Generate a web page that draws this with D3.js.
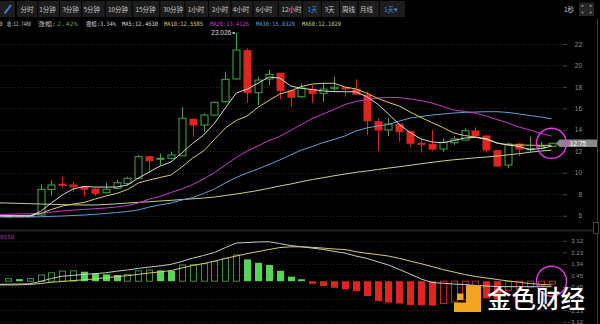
<!DOCTYPE html>
<html><head><meta charset="utf-8">
<script src="https://cdn.jsdelivr.net/npm/d3@7"></script>
<style>
html,body{margin:0;padding:0;background:#000;}
svg{display:block;}
</style></head><body>
<svg id="chart" width="600" height="324"></svg>
<script>
// ---- daily candles (index 0..50) ----
const opens  = [5.97,5.99,5.98,6.06,8.45,8.93,8.86,8.70,8.49,8.14,8.55,9.02,9.48,11.50,11.30,11.35,11.59,14.98,14.45,15.38,16.62,18.74,21.38,17.46,18.74,19.27,17.65,17.09,17.78,17.40,17.83,17.93,17.78,17.25,14.76,13.99,14.52,13.83,12.75,12.65,12.21,12.80,13.05,13.89,13.43,12.06,10.72,12.68,12.20,12.28,12.47];
const highs  = [6.02,6.04,6.05,8.92,9.26,9.63,9.17,8.75,8.55,9.07,9.33,9.63,11.66,11.55,11.81,11.96,16.10,15.08,15.54,16.62,19.42,23.026,21.60,18.95,19.58,19.30,17.70,18.30,18.18,18.40,18.95,17.97,18.71,17.55,15.08,15.08,14.60,13.92,13.21,13.99,13.21,13.43,14.14,14.24,13.43,12.06,12.80,12.75,13.36,12.90,12.80];
const lows   = [5.93,5.95,5.94,6.00,7.86,8.55,8.23,7.86,7.86,8.09,8.46,8.83,9.39,10.00,10.72,11.25,11.55,13.36,13.83,15.29,16.53,18.70,16.53,16.31,18.18,16.85,16.16,16.98,16.53,16.60,17.65,17.10,17.25,13.52,12.06,13.43,12.90,12.43,11.87,12.06,11.96,12.59,13.05,13.30,11.87,10.51,10.42,11.56,11.87,12.19,12.38];
const closes = [5.99,5.98,6.02,8.46,8.86,8.90,8.70,8.46,8.09,8.46,9.07,9.48,11.50,11.12,11.35,11.66,15.08,14.45,15.38,16.57,18.71,21.44,17.46,18.64,19.18,17.65,17.03,17.90,17.40,17.80,17.97,17.80,17.32,14.85,13.99,14.54,13.83,12.75,12.65,12.21,12.84,13.15,13.92,13.43,12.12,10.63,12.68,12.21,12.23,12.447,12.748];

// ---- moving averages (index -1..50) ----
const ma5  = [5.97,5.97,5.97,5.97,6.40,7.18,7.93,8.49,8.72,8.67,8.67,8.67,8.86,9.51,10.07,10.63,11.00,11.84,12.75,13.52,14.61,16.04,17.43,17.78,18.34,18.92,18.83,18.09,17.87,17.76,17.62,17.57,17.55,17.55,17.09,16.41,15.48,14.50,13.75,13.15,12.87,12.80,13.00,13.24,13.30,13.19,12.77,12.59,12.45,12.17,12.26,12.463];
const ma10 = [6.00,6.00,6.00,6.00,6.20,6.58,6.90,7.09,7.23,7.55,7.83,8.07,8.44,9.05,9.33,9.56,9.79,10.54,11.38,12.03,13.10,14.17,14.87,15.29,16.10,16.73,17.34,17.62,18.04,18.27,18.34,18.34,17.99,17.81,17.43,16.94,16.55,16.22,15.66,15.15,14.68,14.22,13.71,13.47,13.33,13.10,12.77,12.59,12.59,12.57,12.56,12.5585];
const ma20 = [6.11,6.13,6.16,6.18,6.22,6.34,6.44,6.53,6.58,6.65,6.72,6.81,6.95,7.18,7.55,7.79,8.16,8.49,8.91,9.42,10.02,10.72,11.42,12.03,12.49,13.01,13.38,13.94,14.50,15.06,15.48,15.90,16.36,16.64,16.83,16.97,17.03,17.00,16.87,16.73,16.50,16.18,15.85,15.71,15.57,15.29,14.96,14.64,14.26,13.99,13.68,13.4126];
const ma30 = [5.88,5.88,5.88,5.88,5.90,5.94,5.97,6.02,6.06,6.13,6.20,6.30,6.39,6.53,6.81,7.00,7.18,7.46,7.69,8.07,8.49,9.05,9.56,9.98,10.35,10.77,11.19,11.66,12.12,12.45,12.82,13.10,13.43,13.89,14.17,14.36,14.50,14.82,15.10,15.24,15.38,15.48,15.57,15.62,15.66,15.69,15.69,15.62,15.48,15.34,15.20,15.032];
const ma60 = [7.20,7.18,7.15,7.12,7.09,7.06,7.03,7.01,7.00,7.00,7.04,7.11,7.18,7.25,7.30,7.37,7.43,7.51,7.57,7.65,7.74,7.88,8.02,8.18,8.35,8.55,8.77,8.95,9.17,9.37,9.54,9.72,9.88,10.04,10.16,10.30,10.44,10.56,10.70,10.84,10.97,11.10,11.21,11.30,11.39,11.47,11.56,11.67,11.78,11.91,12.03,12.1029];

// ---- MACD (lines index -1..50, histogram index 0..50) ----
const dif = [-0.24,-0.23,-0.22,-0.20,-0.02,0.21,0.38,0.45,0.52,0.58,0.65,0.77,0.86,0.99,1.09,1.18,1.30,1.52,1.78,1.98,2.21,2.59,2.94,2.98,3.02,3.04,2.90,2.75,2.65,2.55,2.44,2.30,2.17,1.94,1.76,1.50,1.25,0.90,0.55,0.17,-0.10,-0.16,-0.22,-0.26,-0.32,-0.37,-0.41,-0.42,-0.42,-0.42,-0.42,-0.42];
const dea = [-0.29,-0.29,-0.28,-0.25,-0.18,-0.08,-0.02,0.05,0.11,0.18,0.27,0.35,0.42,0.53,0.63,0.72,0.82,1.02,1.21,1.36,1.55,1.75,1.94,2.12,2.28,2.44,2.59,2.65,2.65,2.61,2.55,2.48,2.44,2.28,2.15,2.05,1.94,1.76,1.55,1.35,1.13,0.90,0.71,0.52,0.36,0.25,0.13,0.02,-0.08,-0.18,-0.24,-0.29];
const macdHist = [0.20,0.16,0.20,0.48,0.65,0.78,0.80,0.73,0.61,0.53,0.48,0.53,0.80,0.86,0.83,0.80,1.25,1.27,1.35,1.50,1.76,2.02,1.68,1.42,1.25,0.80,0.35,0.15,-0.20,-0.37,-0.50,-0.62,-0.75,-1.14,-1.52,-1.65,-1.72,-1.83,-1.85,-1.88,-1.72,-1.60,-1.45,-1.25,-1.32,-1.40,-0.70,-0.60,-0.45,-0.32,-0.22];

// ---- axis ticks and header texts ----
const priceTicks = [6,8,10,12,14,16,18,20,22];
const macdTicks = [-3.12,-2.23,-1.34,-0.45,0.45,1.34,2.23,3.12];
const periods = ["分时","1分钟","3分钟","5分钟","10分钟","15分钟","30分钟","1小时","2小时","4小时","6小时","12小时","1天","3天","周线","月线","1天▾"];
const activePeriods = ["1天","1天▾"];
const lastClose = 12.748;
const peakHigh = 23.026;
const infoItems = [
  {t:"0"}, {t:"收:12.7480"}, {t:"涨幅:"}, {t:"2.42%", k:"up"}, {t:"振幅:3.34%"},
  {t:"MA5:12.4630", k:"ma5"}, {t:"MA10:12.5585", k:"ma10"}, {t:"MA20:13.4126", k:"ma20"},
  {t:"MA30:15.0320", k:"ma30"}, {t:"MA60:12.1029", k:"ma60"}
];

// ---- styling ----
const C = {
  up:"#46a846", upFill:"#55d655", upHollow:"#3f8f3f",
  down:"#e0241f", downHollow:"#c42320",
  ma5:"#d8d8d8", ma10:"#d9cf62", ma20:"#c93ac9", ma30:"#5ea3da", ma60:"#c0d68c",
  dif:"#c8c8c8", dea:"#d6cf68", text:"#c8c8c8", axis:"#8d8d8d", grid:"#262626"
};
const FONT = "'Noto Sans CJK SC','Noto Sans',sans-serif";
const MONO = "'DejaVu Sans Mono','Noto Sans CJK SC',monospace";

const svg = d3.select("#chart");
svg.append("rect").attr("width",600).attr("height",324).attr("fill","#000");

// ---- scales ----
const x = d3.scaleLinear().domain([0,50]).range([7.9,551.5]);
const y = d3.scaleLinear().domain([6,22]).range([215.7,44]);
const ym = d3.scaleLinear().domain([-3.12,3.12]).range([321.7,240.7]);
const bodyW = 7;

// ---- toolbar ----
const tb = svg.append("g");
const btnCenters = [27,47.5,70.5,91.7,118,145.5,173,196,220,241,264,291.5,312.5,329.5,348.5,366.5,391];
const bounds = [16];
for (let i=0;i<btnCenters.length-1;i++) bounds.push((btnCenters[i]+btnCenters[i+1])/2);
bounds.push(405);
tb.append("rect").attr("x",0).attr("y",1).attr("width",15).attr("height",16).attr("fill","#1d1d1d");
tb.append("line").attr("x1",5).attr("y1",13).attr("x2",11).attr("y2",5)
  .attr("stroke","#3b7fd6").attr("stroke-width",2);
tb.append("path").attr("d","M4,14 L4.5,12 L6,13.5 Z").attr("fill","#3b7fd6");
periods.forEach((p,i)=>{
  tb.append("rect").attr("x",bounds[i]+1).attr("y",1).attr("width",bounds[i+1]-bounds[i]-1).attr("height",16).attr("fill","#1d1d1d");
  tb.append("text").attr("x",btnCenters[i]).attr("y",11.5).attr("text-anchor","middle")
    .attr("font-family",FONT).attr("font-size",6.5)
    .attr("fill",activePeriods.includes(p)?"#3f8ee0":C.text).text(p);
});
tb.append("text").attr("x",569).attr("y",11.5).attr("text-anchor","middle")
  .attr("font-family",FONT).attr("font-size",6.5).attr("fill",C.text).text("1秒");
tb.append("rect").attr("x",579).attr("y",2.5).attr("width",15).attr("height",13.5).attr("fill","#262626");
tb.append("path")
  .attr("d","M582,7 L582,5.5 L583.5,5.5 M589.5,5.5 L591,5.5 L591,7 M591,11.5 L591,13 L589.5,13 M583.5,13 L582,13 L582,11.5")
  .attr("fill","none").attr("stroke","#bbb").attr("stroke-width",0.8);

// ---- info line ----
const infoX = [-1,7,38,57,86,122,164,210,256,302];
const infoW = [null,24,18,21,30,36,39,39,39,39];
infoItems.forEach((it,i)=>{
  const t = svg.append("text").attr("x",infoX[i]).attr("y",25.5)
    .attr("font-family",MONO).attr("font-size",6)
    .attr("fill", it.k ? C[it.k] : C.text).text(it.t);
  if (infoW[i]) t.attr("textLength",infoW[i]).attr("lengthAdjust","spacingAndGlyphs");
});

// ---- price panel ----
const plot = svg.append("g");
svg.append("clipPath").attr("id","plotClip").append("rect")
  .attr("x",0).attr("y",19).attr("width",562).attr("height",210);

plot.selectAll(".grid").data(priceTicks).join("line")
  .attr("x1",0).attr("x2",562)
  .attr("y1",d=>Math.round(y(d))+0.5).attr("y2",d=>Math.round(y(d))+0.5)
  .attr("stroke",C.grid).attr("stroke-dasharray","1,2");

const pAxis = svg.append("g").attr("transform","translate(563,0)")
  .call(d3.axisRight(y).tickValues(priceTicks).tickSize(4).tickPadding(2).tickFormat(d3.format("d")));
pAxis.select(".domain").remove();
pAxis.selectAll("line").attr("stroke","#444");
pAxis.selectAll("text").attr("x",19).attr("text-anchor","end")
  .attr("font-family","'Liberation Sans',sans-serif").attr("font-size",6.5).attr("fill",C.axis);

const cg = plot.append("g").attr("clip-path","url(#plotClip)");
const idx = d3.range(closes.length);
idx.forEach(i=>{
  const o=opens[i], c=closes[i], up = c>=o;
  const col = up ? C.up : C.down;
  const cx = Math.round(x(i))+0.5;
  cg.append("line").attr("x1",cx).attr("x2",cx).attr("y1",y(highs[i])).attr("y2",y(lows[i]))
    .attr("stroke",col).attr("stroke-width",1);
  const top = y(Math.max(o,c)), bot = y(Math.min(o,c));
  const h = Math.max(1, bot-top);
  cg.append("rect").attr("x",cx-bodyW/2).attr("y",top).attr("width",bodyW).attr("height",h)
    .attr("fill", up ? "#000" : C.down).attr("stroke",col).attr("stroke-width",1);
});

const maLine = d3.line().x((d,k)=>x(k-1)).y(d=>y(d));
[["ma60",ma60],["ma30",ma30],["ma20",ma20],["ma10",ma10],["ma5",ma5]].forEach(([k,arr])=>{
  cg.append("path").attr("d",maLine(arr)).attr("fill","none")
    .attr("stroke",C[k]).attr("stroke-width",1);
});

// peak marker
const pk = highs.indexOf(peakHigh);
svg.append("text").attr("x",x(pk)-5).attr("y",y(peakHigh)+2)
  .attr("text-anchor","end").attr("font-family","'Liberation Sans',sans-serif")
  .attr("font-size",6.5).attr("fill","#dcdcdc").text(d3.format(".3f")(peakHigh));
svg.append("line").attr("x1",x(pk)-4.5).attr("x2",x(pk)-1).attr("y1",y(peakHigh)).attr("y2",y(peakHigh))
  .attr("stroke","#dcdcdc").attr("stroke-width",0.8);
svg.append("path").attr("d",`M${x(pk)-1},${y(peakHigh)} l-2,-1.3 l0,2.6 Z`).attr("fill","#dcdcdc");

// last price tag
const ly = y(lastClose);
svg.append("path").attr("d",`M556,${ly} L559.5,${ly-3.8} L597,${ly-3.8} L597,${ly+3.8} L559.5,${ly+3.8} Z`)
  .attr("fill","#8a8a8a");
svg.append("text").attr("x",578).attr("y",ly+2.3).attr("text-anchor","middle")
  .attr("font-family","'Liberation Sans',sans-serif").attr("font-size",6.5).attr("fill","#fff")
  .text(d3.format(".2f")(lastClose));

svg.append("circle").attr("cx",x(50)).attr("cy",ly).attr("r",15)
  .attr("fill","none").attr("stroke","#e23be2").attr("stroke-width",1.4);

// ---- separator / right border ----
svg.append("rect").attr("x",0).attr("y",229.5).attr("width",597).attr("height",2).attr("fill","#202020");
svg.append("line").attr("x1",597.5).attr("x2",597.5).attr("y1",19).attr("y2",324).attr("stroke","#3a3a3a");
svg.append("rect").attr("x",593.5).attr("y",222.5).attr("width",5).attr("height",11).attr("fill","#000").attr("stroke","#555").attr("stroke-width",0.8);

// ---- MACD panel ----
const mg = svg.append("g");
mg.selectAll(".mgrid").data(macdTicks).join("line")
  .attr("x1",0).attr("x2",562)
  .attr("y1",d=>Math.round(ym(d))+0.5).attr("y2",d=>Math.round(ym(d))+0.5)
  .attr("stroke",C.grid).attr("stroke-dasharray","1,2");

const mAxis = svg.append("g").attr("transform","translate(563,0)")
  .call(d3.axisRight(ym).tickValues(macdTicks).tickSize(4).tickPadding(2).tickFormat(d3.format(".2f")));
mAxis.select(".domain").remove();
mAxis.selectAll("line").attr("stroke","#444");
mAxis.selectAll("text").attr("x",20).attr("text-anchor","end")
  .attr("font-family","'Liberation Sans',sans-serif").attr("font-size",6).attr("fill",C.axis);

const zero = ym(0);
macdHist.forEach((v,i)=>{
  const prev = i>0 ? macdHist[i-1] : -Infinity;
  const rising = v > prev;
  const cx = Math.round(x(i))+0.5;
  const top = Math.min(ym(v), zero), h = Math.max(1, Math.abs(ym(v)-zero));
  const pos = v >= 0;
  if (rising) {
    mg.append("rect").attr("x",cx-bodyW/2+0.5).attr("y",top).attr("width",bodyW-1).attr("height",h)
      .attr("fill","none").attr("stroke",pos?C.upHollow:C.downHollow).attr("stroke-width",1);
  } else {
    mg.append("rect").attr("x",cx-bodyW/2).attr("y",top).attr("width",bodyW).attr("height",h)
      .attr("fill",pos?C.upFill:C.down);
  }
});
svg.append("clipPath").attr("id","macdClip").append("rect")
  .attr("x",0).attr("y",232).attr("width",562).attr("height",92);
const mLine = d3.line().x((d,k)=>x(k-1)).y(d=>ym(d));
mg.append("path").attr("d",mLine(dea)).attr("clip-path","url(#macdClip)")
  .attr("fill","none").attr("stroke",C.dea).attr("stroke-width",1);
mg.append("path").attr("d",mLine(dif)).attr("clip-path","url(#macdClip)")
  .attr("fill","none").attr("stroke",C.dif).attr("stroke-width",1);

svg.append("text").attr("x",0).attr("y",239).attr("font-family",MONO).attr("font-size",6)
  .attr("fill","#a83aa8").text("0559");

svg.append("circle").attr("cx",x(50)).attr("cy",zero).attr("r",15)
  .attr("fill","none").attr("stroke","#e23be2").attr("stroke-width",1.4);

// ---- watermark ----
const wm = svg.append("g");
wm.append("path").attr("d","M466,285 L481,285 L481,312 L454,312 L454,302.5 L466,302.5 Z").attr("fill","#f2a51f");
wm.append("rect").attr("x",457).attr("y",293.5).attr("width",6.5).attr("height",6.5).attr("fill","#f2a51f");
wm.append("text").attr("x",487).attr("y",307.5).attr("font-family","'Noto Sans CJK SC',sans-serif")
  .attr("font-size",24.5).attr("font-weight",500).attr("fill","#fff").text("金色财经");
</script></body></html>
